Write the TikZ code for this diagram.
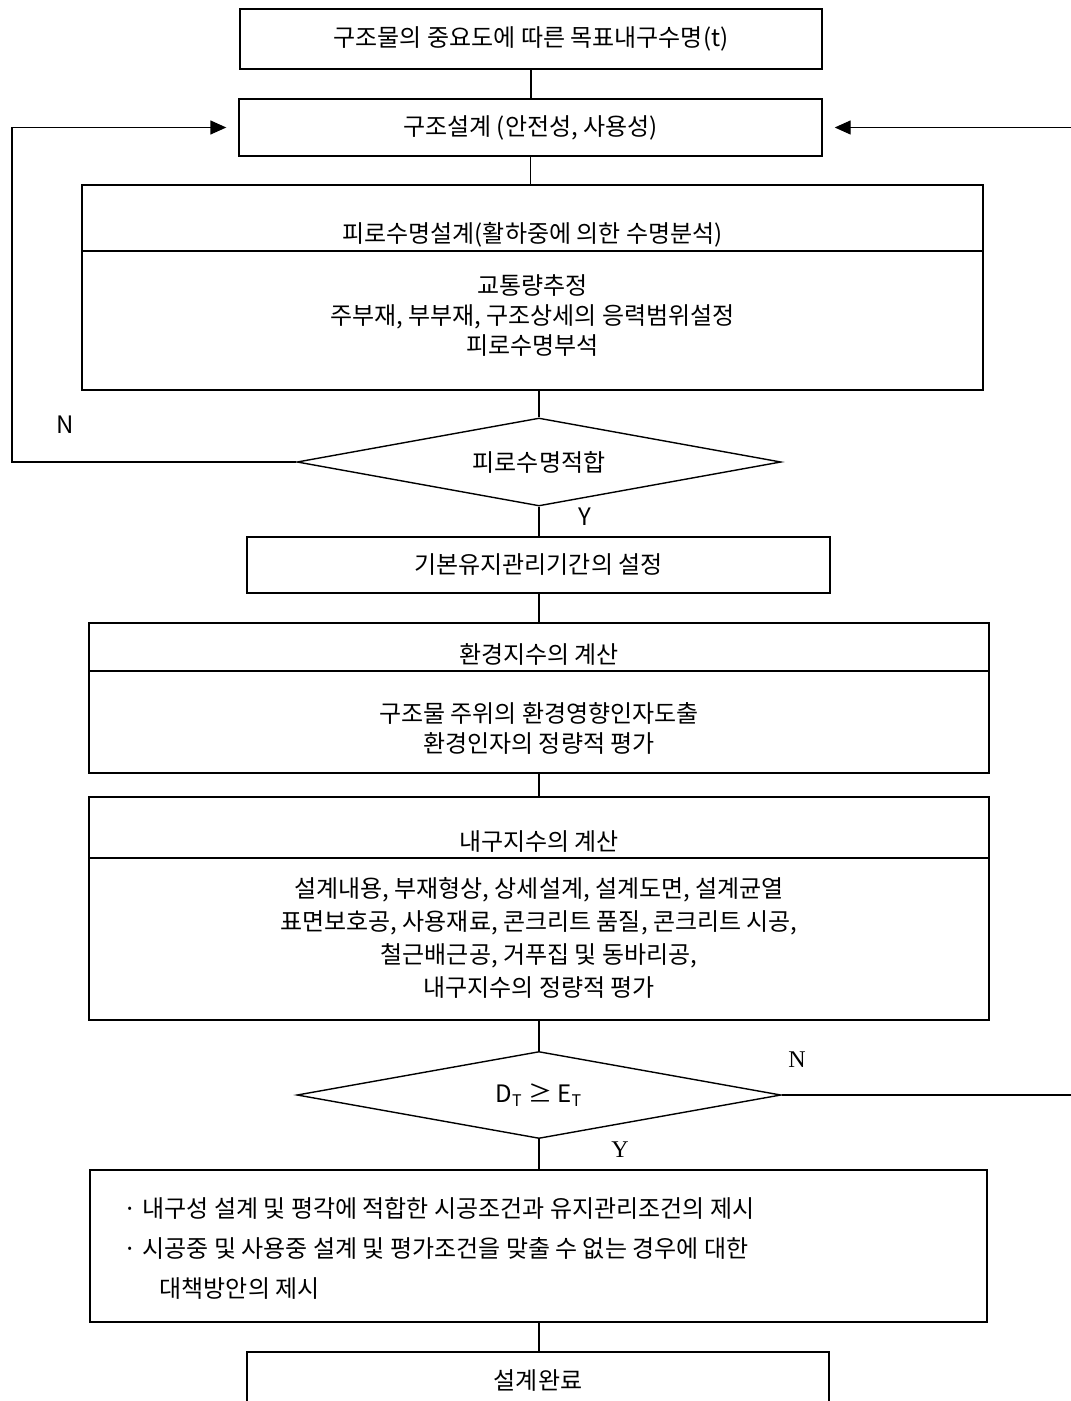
\documentclass[tikz,border=0pt]{standalone}
\usepackage{fontspec}
\setmainfont{Noto Sans CJK KR}
\newfontfamily\latinserif{Liberation Serif}
\usetikzlibrary{shapes.geometric,arrows.meta}

\begin{document}
\begin{tikzpicture}[x=0.5pt, y=-0.5pt, line width=0.7pt, font=\fontsize{12pt}{15pt}\selectfont]
	\tikzstyle{box} = [rectangle, draw=black, inner sep=0pt]
	\tikzstyle{decision} = [diamond, draw=black, inner sep=0pt, aspect=5.5, minimum width=242pt, minimum height=44pt]
	\tikzstyle{body} = [align=center, inner sep=0pt]
	\tikzstyle{header} = [inner sep=0pt, anchor=base]
	\tikzstyle{loop_arrow} = [-{Triangle[length=8pt, width=7pt]}, shorten >=6pt]

	\useasboundingbox (0,0) rectangle (1070,1401);

%------------------------------------------------------------
	\node[box, minimum width=291pt, minimum height=30pt] (b_goal) at (531,39) {구조물의 중요도에 따른 목표내구수명(t)};
	\node[box, minimum width=291.5pt, minimum height=28.5pt] (b_design) at (530.5,127.5) {구조설계 (안전성, 사용성)};

	\node[box, minimum width=450.5pt, minimum height=102.5pt] (b_fatigue) at (532.5,287.5) {};
	\node[header] (t_fatigue) at (532.5,243) {피로수명설계(활하중에 의한 수명분석)};
	\node[body] (l_fatigue) at (532.5,316) {교통량추정\\주부재, 부부재, 구조상세의 응력범위설정\\피로수명부석};
	\draw (b_fatigue.west |- 0,251) -- (b_fatigue.east |- 0,251);

	\node[decision] (d_fatigue) at (539,462) {피로수명적합};
%------------------------------------------------------------

	\node[box, minimum width=291.5pt, minimum height=28pt] (b_period) at (538.5,565) {기본유지관리기간의 설정};

	\node[box, minimum width=450pt, minimum height=75pt] (b_env) at (539,698) {};
	\node[header] (t_env) at (539,663) {환경지수의 계산};
	\node[body] (l_env) at (539,728.5) {구조물 주위의 환경영향인자도출\\환경인자의 정량적 평가};
	\draw (b_env.west |- 0,671) -- (b_env.east |- 0,671);

	\node[box, minimum width=450pt, minimum height=111.5pt] (b_dur) at (539,908.5) {};
	\node[header] (t_dur) at (539,850) {내구지수의 계산};
	\node[body, font=\fontsize{12pt}{16.5pt}\selectfont] (l_dur) at (539,937.5) {설계내용, 부재형상, 상세설계, 설계도면, 설계균열\\표면보호공, 사용재료, 콘크리트 품질, 콘크리트 시공,\\철근배근공, 거푸집 및 동바리공,\\내구지수의 정량적 평가};
	\draw (b_dur.west |- 0,858) -- (b_dur.east |- 0,858);

	\node[decision, minimum height=43.5pt] (d_dur) at (539,1095) {D\textsubscript{T} ≥ E\textsubscript{T}};
%------------------------------------------------------------

	\node[box, minimum width=448.5pt, minimum height=76pt] (b_measure) at (538.5,1246) {};
	\node[align=left, inner sep=0pt, anchor=west, font=\fontsize{12pt}{20pt}\selectfont] (l_measure) at (123,1248.5) {· 내구성 설계 및 평각에 적합한 시공조건과 유지관리조건의 제시\\· 시공중 및 사용중 설계 및 평가조건을 맞출 수 없는 경우에 대한\\\hspace*{18pt}대책방안의 제시};

	\node[box, minimum width=291pt, minimum height=28pt] (b_end) at (538,1380) {설계완료};

%------------------------------------------------------------
	\node (n_left) at (65,425) {N};
	\node (y_upper) at (585,517) {Y};
	\node[font=\latinserif\fontsize{12pt}{15pt}\selectfont] (n_right) at (797,1060) {N};
	\node[font=\latinserif\fontsize{12pt}{15pt}\selectfont] (y_lower) at (620,1150) {Y};

	\draw (b_goal.south) -- (b_goal.south |- b_design.north);
	\draw (b_design.south) -- (b_design.south |- b_fatigue.north);
	\draw (d_fatigue.north |- b_fatigue.south) -- (d_fatigue.north);
	\draw (d_fatigue.south) -- (d_fatigue.south |- b_period.north);
	\draw (d_fatigue.south |- b_period.south) -- (d_fatigue.south |- b_env.north);
	\draw (d_fatigue.south |- b_env.south) -- (d_fatigue.south |- b_dur.north);
	\draw (d_dur.north |- b_dur.south) -- (d_dur.north);
	\draw (d_dur.south) -- (d_dur.south |- b_measure.north);
	\draw (d_dur.south |- b_measure.south) -- (d_dur.south |- b_end.north);

	\coordinate (loop_l) at (12,462);
	\coordinate (loop_r) at (1074,1095);
	\draw[loop_arrow] (d_fatigue.west) -- (loop_l) |- (b_design.west);
	\draw[loop_arrow] (d_dur.east) -- (loop_r) |- (b_design.east);

\end{tikzpicture}
\end{document}
